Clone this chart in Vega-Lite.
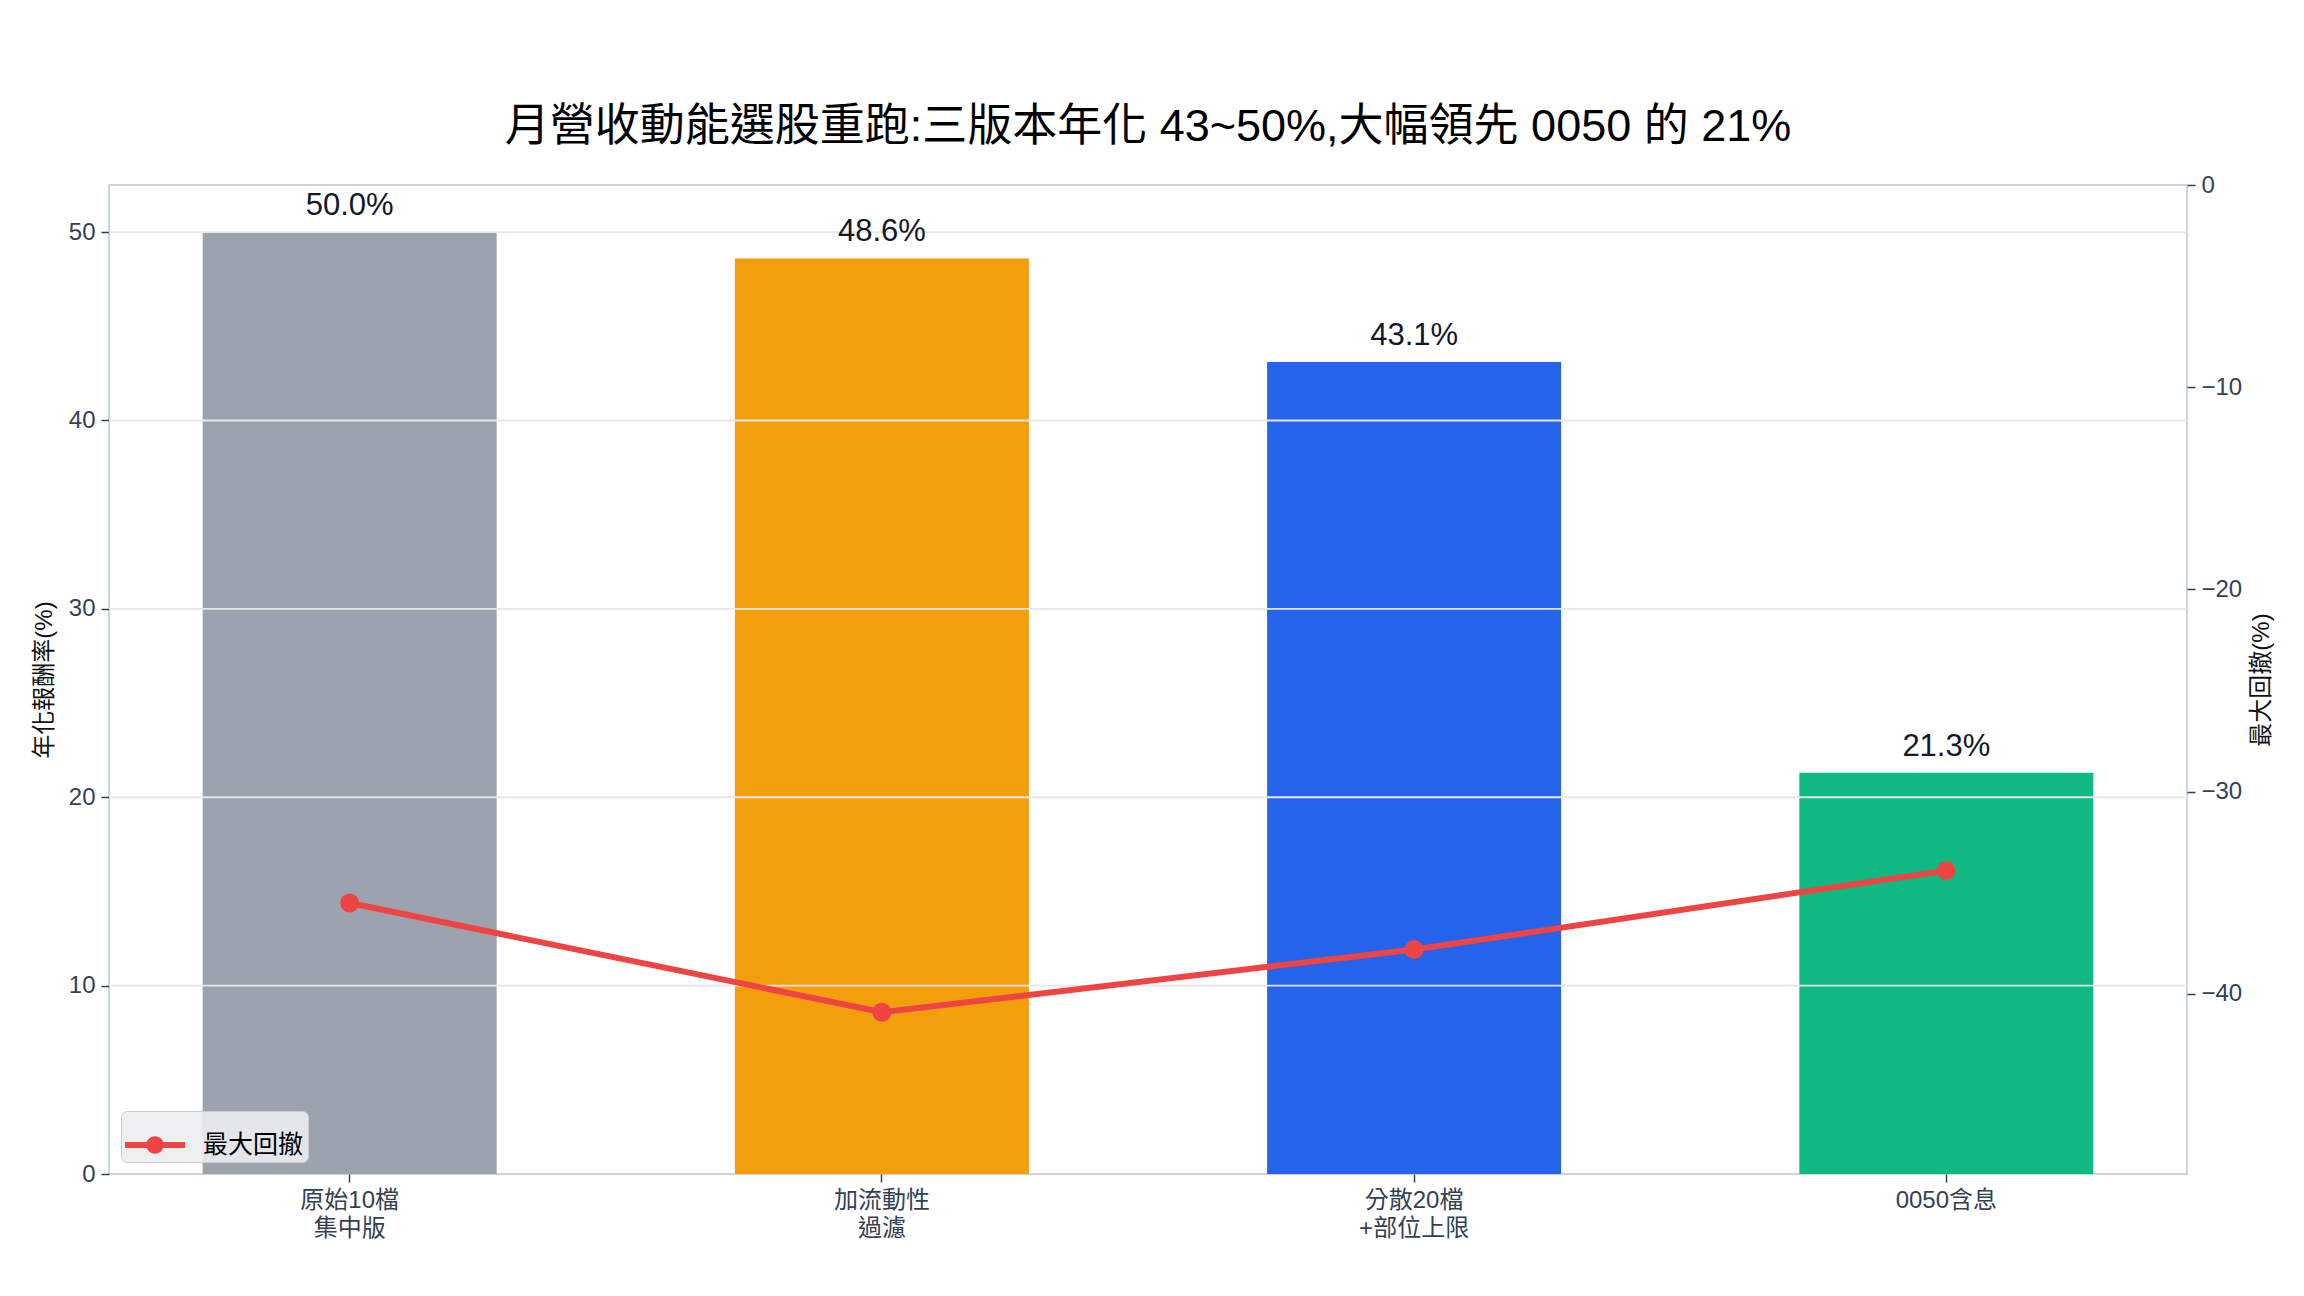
{
  "$schema": "https://vega.github.io/schema/vega-lite/v6.json",
  "width": 2078,
  "height": 989,
  "autosize": {"type": "none"},
  "padding": {"left": 109, "top": 185, "right": 117, "bottom": 122},
  "background": "white",
  "title": {
    "text": "月營收動能選股重跑:三版本年化 43~50%,大幅領先 0050 的 21%",
    "fontSize": 45,
    "font": "'Liberation Sans', 'Noto Sans CJK TC', sans-serif",
    "fontWeight": "normal",
    "color": "#000000",
    "anchor": "middle",
    "offset": 23
  },
  "config": {
    "view": {"stroke": "#cbd5e1", "strokeWidth": 2},
    "font": "'Liberation Sans', 'Noto Sans CJK TC', sans-serif",
    "axis": {
      "labelFont": "'Liberation Sans', 'Noto Sans CJK TC', sans-serif",
      "titleFont": "'Liberation Sans', 'Noto Sans CJK TC', sans-serif",
      "labelColor": "#334155",
      "tickColor": "#334155",
      "tickSize": 8,
      "tickWidth": 1.5,
      "domain": false,
      "titleFontWeight": "normal",
      "titleColor": "#111111"
    }
  },
  "datasets": {
    "perf": [
      {"strategy": "原始10檔\n集中版", "ret": 50.0, "mdd": -35.5},
      {"strategy": "加流動性\n過濾", "ret": 48.6, "mdd": -40.9},
      {"strategy": "分散20檔\n+部位上限", "ret": 43.1, "mdd": -37.8},
      {"strategy": "0050含息", "ret": 21.3, "mdd": -33.9}
    ],
    "grid": [{"g": 10}, {"g": 20}, {"g": 30}, {"g": 40}, {"g": 50}]
  },
  "layer": [
    {
      "layer": [
        {
          "data": {"name": "perf"},
          "mark": {"type": "bar"},
          "encoding": {
            "x": {
              "field": "strategy",
              "type": "nominal",
              "sort": null,
              "scale": {"paddingInner": 0.4476, "paddingOuter": 0.176},
              "axis": {
                "title": null,
                "labelAngle": 0,
                "labelFontSize": 24,
                "labelLineHeight": 28,
                "labelPadding": 6,
                "labelExpr": "split(datum.value, '\\n')",
                "grid": false
              }
            },
            "y": {
              "field": "ret",
              "type": "quantitative",
              "scale": {"domain": [0, 52.5], "nice": false, "zero": true},
              "axis": {
                "title": "年化報酬率(%)",
                "titleFontSize": 24,
                "titlePadding": 12,
                "values": [0, 10, 20, 30, 40, 50],
                "labelFontSize": 24,
                "labelPadding": 6,
                "grid": false
              }
            },
            "color": {
              "field": "strategy",
              "type": "nominal",
              "sort": null,
              "scale": {
                "domain": ["原始10檔\n集中版", "加流動性\n過濾", "分散20檔\n+部位上限", "0050含息"],
                "range": ["#9ca3af", "#f39e0c", "#2563eb", "#10b981"]
              },
              "legend": null
            }
          }
        },
        {
          "data": {"name": "grid"},
          "mark": {"type": "rule", "color": "#e5e7eb", "strokeWidth": 1.8},
          "encoding": {
            "y": {"field": "g", "type": "quantitative"}
          }
        },
        {
          "data": {"name": "perf"},
          "mark": {
            "type": "text",
            "baseline": "bottom",
            "dy": -10,
            "fontSize": 31,
            "color": "#111827",
            "text": {"expr": "format(datum.ret, '.1f') + '%'"}
          },
          "encoding": {
            "x": {"field": "strategy", "type": "nominal", "sort": null},
            "y": {"field": "ret", "type": "quantitative"}
          }
        }
      ]
    },
    {
      "data": {"name": "perf"},
      "mark": {
        "type": "line",
        "strokeWidth": 6,
        "point": {"size": 360, "filled": true, "color": "#ef4444"}
      },
      "encoding": {
        "x": {"field": "strategy", "type": "nominal", "sort": null},
        "y": {
          "field": "mdd",
          "type": "quantitative",
          "scale": {"domain": [-48.9, 0], "nice": false, "zero": false},
          "axis": {
            "orient": "right",
            "title": "最大回撤(%)",
            "titleFontSize": 24,
            "titleAngle": 270,
            "titlePadding": 32,
            "values": [0, -10, -20, -30, -40],
            "labelFontSize": 24,
            "labelPadding": 6,
            "grid": false
          }
        },
        "color": {
          "datum": "最大回撤",
          "type": "nominal",
          "scale": {"range": ["#ef4444"]},
          "legend": {
            "title": null,
            "orient": "bottom-left",
            "offset": 12,
            "padding": 4,
            "fillColor": "rgba(236,237,240,0.9)",
            "strokeColor": "#cccccc",
            "cornerRadius": 6,
            "labelFontSize": 25,
            "labelColor": "#000000",
            "labelOffset": 18,
            "symbolType": "M-1,-0.1L1,-0.1L1,0.1L-1,0.1Z M-0.29,0A0.29,0.29 0 1,1 0.29,0A0.29,0.29 0 1,1 -0.29,0Z",
            "symbolSize": 3600,
            "symbolFillColor": "#ef4444",
            "symbolStrokeWidth": 0,
            "symbolStrokeColor": "#ef4444"
          }
        }
      }
    }
  ],
  "resolve": {"scale": {"y": "independent", "color": "independent"}}
}
